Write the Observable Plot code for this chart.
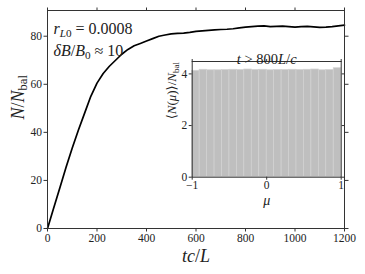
<!DOCTYPE html>
<html><head><meta charset="utf-8">
<script src="https://cdn.jsdelivr.net/npm/d3@7"></script>
<script src="https://cdn.jsdelivr.net/npm/@observablehq/plot@0.6"></script>
<style>body{margin:0;background:white}#c{position:relative;width:365px;height:274px}#c svg{position:absolute;overflow:visible}</style>
</head><body><div id="c"></div>
<script>
const tVals = [0,25,50,75,100,125,150,175,200,225,250,275,300,325,350,375,400,425,450,475,500,525,550,575,600,625,650,675,700,725,750,775,800,825,850,875,900,925,950,975,1000,1025,1050,1075,1100,1125,1150,1175,1200];
const nVals = [0,8.5,17,25.5,33.5,41,48,55,60.5,64.5,67.5,70,72.5,74.5,76,77,78,79,80,80.5,81,81.2,81.3,81.6,82,82.2,82.4,82.6,82.8,82.9,83.1,83.5,83.8,84,84.2,84.3,84,84.1,84.2,84,83.8,84,84.1,83.9,83.7,83.8,84,84.3,84.6];
const muLeft = [-1,-0.9,-0.8,-0.7,-0.6,-0.5,-0.4,-0.3,-0.2,-0.1,0,0.1,0.2,0.3,0.4,0.5,0.6,0.7,0.8,0.9];
const histVals = [4.12,4.16,4.14,4.14,4.15,4.16,4.15,4.17,4.15,4.16,4.14,4.15,4.15,4.16,4.15,4.16,4.17,4.14,4.15,4.22];
const xTicks = [0,200,400,600,800,1000,1200];
const yTicks = [0,20,40,60,80];
const muTicks = [-1,0,1];
const hTicks = [0,2,4];

const lineData = tVals.map((t,i)=>({t, n:nVals[i]}));
const histData = muLeft.map((m,i)=>({x1:m, x2:m+0.1, y:histVals[i]}));
const ax = "#333";
const FONT = "'Liberation Serif', 'DejaVu Serif', serif";
const fmt = d => d < 0 ? "\u2212" + String(-d) : String(d);

const main = Plot.plot({
  width:365, height:274, marginLeft:47, marginRight:21, marginTop:10, marginBottom:46,
  style:{fontSize:"11px", fontFamily:FONT, background:"transparent", color:"#222"},
  x:{domain:[0,1200]}, y:{domain:[0,90.7]},
  marks:[
    Plot.axisX({ticks:xTicks, tickSize:3.5, tickPadding:2, tickFormat:fmt, label:null, stroke:ax, fontSize:11.5}),
    Plot.axisX({anchor:"top", ticks:xTicks, tickSize:3.5, tickFormat:()=>"", label:null, stroke:ax}),
    Plot.axisY({ticks:yTicks, tickSize:3.5, tickPadding:2, tickFormat:fmt, label:null, stroke:ax, fontSize:11.5}),
    Plot.axisY({anchor:"right", ticks:yTicks, tickSize:3.5, tickFormat:()=>"", label:null, stroke:ax}),
    Plot.line(lineData, {x:"t", y:"n", stroke:"black", strokeWidth:1.7}),
    Plot.frame({stroke:ax, strokeWidth:1}),
    Plot.text(["XLAB"], {frameAnchor:"bottom", dy:33, fontSize:18}),
    Plot.text(["YLAB"], {frameAnchor:"left", dx:-29, rotate:-90, fontSize:18}),
    Plot.text(["ANN1"], {frameAnchor:"top-left", dx:6, dy:12, fontSize:16, textAnchor:"start"}),
    Plot.text(["ANN2"], {frameAnchor:"top-left", dx:6, dy:34, fontSize:16, textAnchor:"start"})
  ]
});

const inset = Plot.plot({
  width:190, height:175, marginLeft:31.7, marginRight:9.3, marginTop:21, marginBottom:38.3,
  style:{fontSize:"11px", fontFamily:FONT, background:"transparent", color:"#222"},
  x:{domain:[-1,1]}, y:{domain:[0,4.48]},
  marks:[
    Plot.rectY(histData, {x1:"x1", x2:"x2", y:"y", fill:"#bfbfbf", stroke:"#d2d2d2", strokeWidth:0.7}),
    Plot.axisX({ticks:muTicks, tickSize:3, tickPadding:1, tickFormat:fmt, label:null, stroke:ax, fontSize:11.5}),
    Plot.axisX({anchor:"top", ticks:muTicks, tickSize:3, tickFormat:()=>"", label:null, stroke:ax}),
    Plot.axisY({ticks:hTicks, tickSize:3, tickPadding:2, tickFormat:fmt, label:null, stroke:ax, fontSize:11.5}),
    Plot.axisY({anchor:"right", ticks:hTicks, tickSize:3, tickFormat:()=>"", label:null, stroke:ax}),
    Plot.frame({stroke:ax, strokeWidth:1}),
    Plot.text(["TTL"], {frameAnchor:"top", dy:-8, fontSize:14.5}),
    Plot.text(["MU"], {frameAnchor:"bottom", dy:28, fontSize:14}),
    Plot.text(["HYL"], {frameAnchor:"left", dx:-20, rotate:-90, fontSize:13})
  ]
});

const rich = {
  XLAB: '<tspan font-style="italic">tc</tspan>/<tspan font-style="italic">L</tspan>',
  YLAB: '<tspan font-style="italic">N</tspan>/<tspan font-style="italic">N</tspan><tspan dy="3" font-size="70%">bal</tspan>',
  ANN1: '<tspan font-style="italic">r</tspan><tspan dy="3" font-size="70%"><tspan font-style="italic">L</tspan>0</tspan><tspan dy="-3"> = 0.0008</tspan>',
  ANN2: '<tspan font-style="italic">δB</tspan>/<tspan font-style="italic">B</tspan><tspan dy="3" font-size="70%">0</tspan><tspan dy="-3"> ≈ 10</tspan>',
  TTL: '<tspan font-style="italic">t</tspan> &gt; 800<tspan font-style="italic">L</tspan>/<tspan font-style="italic">c</tspan>',
  MU: '<tspan font-style="italic">μ</tspan>',
  HYL: '⟨<tspan font-style="italic">N</tspan>(<tspan font-style="italic">μ</tspan>)⟩/<tspan font-style="italic">N</tspan><tspan dy="3" font-size="70%">bal</tspan>'
};
for (const svg of [main, inset]) {
  d3.select(svg).selectAll("text").each(function(){
    const k = this.textContent;
    if (rich[k]) this.innerHTML = rich[k];
    this.setAttribute("font-family", FONT);
    this.style.fontFamily = FONT;
  });
}
main.style.left = "0px"; main.style.top = "0px";
inset.style.left = "160px"; inset.style.top = "40px";
document.getElementById("c").append(main, inset);
</script></body></html>
